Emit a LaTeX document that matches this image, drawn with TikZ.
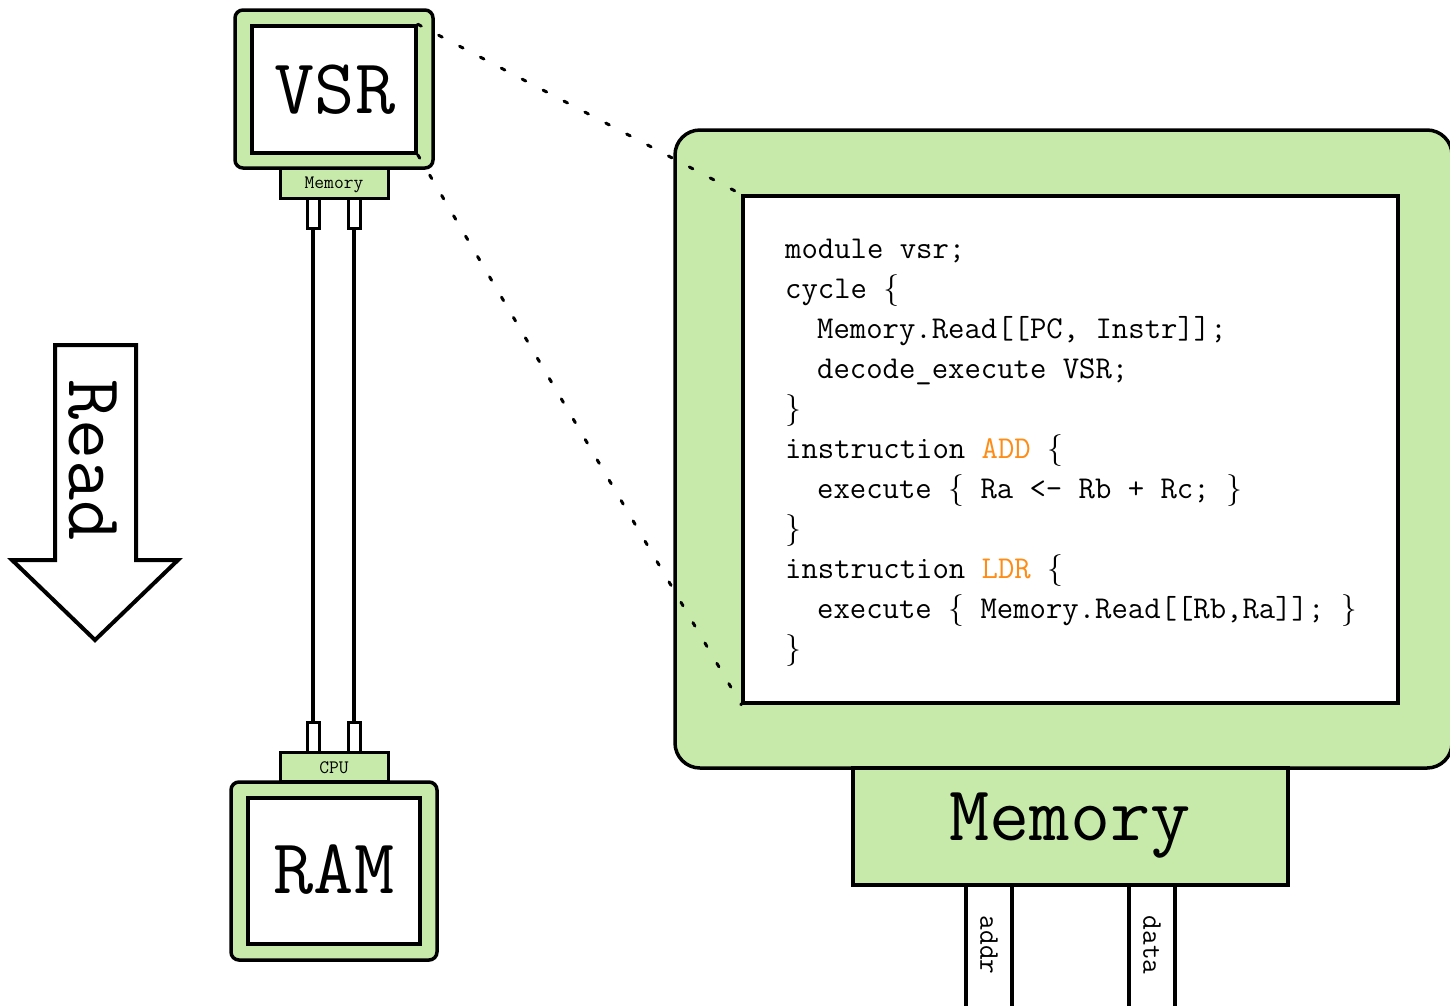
\documentclass[tikz,border=0pt]{standalone}
\usepackage{xcolor}
\definecolor{boxgreen}{RGB}{199,234,170}
\definecolor{codeorange}{RGB}{255,140,20}
\newcommand\cbopen{{\rmfamily\{}}
\newcommand\cbclose{{\rmfamily\}}}
\tikzset{
  frame/.style={draw, line width=3.5pt, fill=boxgreen, rounded corners=8pt, inner sep=0pt},
  screen/.style={draw, line width=3.5pt, fill=white, inner sep=0pt},
  port/.style={draw, line width=3pt, fill=boxgreen, inner sep=0pt},
  pin/.style={draw, line width=3pt, fill=white, inner sep=0pt, minimum width=12pt, minimum height=30pt},
  wire/.style={line width=4.5pt},
  dotline/.style={line width=3pt, line cap=round, dash pattern=on 4pt off 19.6pt},
  bigtext/.style={font=\fontsize{78}{80}\selectfont\ttfamily, inner sep=0pt},
  smalltext/.style={font=\fontsize{19}{20}\selectfont\ttfamily, inner sep=0pt},
  pintext/.style={font=\fontsize{28.5}{30}\selectfont\ttfamily, inner sep=0pt, rotate=-90},
  codeline/.style={font=\fontsize{31.8}{40}\selectfont\ttfamily, inner sep=0pt, anchor=base west},
}
\begin{document}
\begin{tikzpicture}[x=1pt,y=-1pt]
\clip (0,0) rectangle (1450,1005);
% big memory module
\node[screen, minimum width=46pt, minimum height=130pt] (addr) at (989,948) {};
\node[pintext] (addrtxt) at (989,945) {addr};
\node[screen, minimum width=46pt, minimum height=130pt] (data) at (1152,948) {};
\node[pintext] (datatxt) at (1152,945) {data};
\node[frame, rounded corners=25pt, minimum width=777pt, minimum height=638pt] (bigframe) at (1063.5,449) {};
\node[port, line width=3.5pt, minimum width=435pt, minimum height=117pt] (membox) at (1070.5,826.5) {};
\node[bigtext, anchor=base] (memtxt) at (1070,840) {Memory};
\node[screen, minimum width=655pt, minimum height=507pt] (codebox) at (1070.5,449.5) {};
% code
\node[codeline] (l1) at (785,258) {module vsr;};
\node[codeline] (l2) at (785,298) {cycle \cbopen};
\node[codeline] (l3) at (817,338) {Memory.Read[[PC, Instr]];};
\node[codeline] (l4) at (817,378) {decode\_execute VSR;};
\node[codeline] (l5) at (785,418) {\cbclose};
\node[codeline] (l6) at (785,458) {instruction \textcolor{codeorange}{ADD} \cbopen};
\node[codeline] (l7) at (817,498) {execute \cbopen{} Ra <- Rb + Rc; \cbclose};
\node[codeline] (l8) at (785,538) {\cbclose};
\node[codeline] (l9) at (785,578) {instruction \textcolor{codeorange}{LDR} \cbopen};
\node[codeline] (l10) at (817,618) {execute \cbopen{} Memory.Read[[Rb,Ra]]; \cbclose};
\node[codeline] (l11) at (785,658) {\cbclose};
% VSR
\node[frame, minimum width=198pt, minimum height=158pt] (vsr) at (334,89) {};
\node[screen, minimum width=164pt, minimum height=127pt] (vsrin) at (334,89.5) {};
\node[bigtext] (vsrtxt) at (335,90) {VSR};
\node[port, minimum width=108pt, minimum height=30pt] (memport) at (334,183) {};
\node[smalltext, anchor=base] (memporttxt) at (334,188.5) {Memory};
\node[pin] (p1) at (313,213) {};
\node[pin] (p2) at (354,213) {};
% RAM
\node[pin] (p3) at (313,737) {};
\node[pin] (p4) at (354,737) {};
\node[port, minimum width=108pt, minimum height=29pt] (cpuport) at (334,766.5) {};
\node[smalltext, anchor=base] (cputxt) at (334,773) {CPU};
\node[frame, minimum width=206pt, minimum height=178pt] (ram) at (334,871) {};
\node[screen, minimum width=172pt, minimum height=146pt] (ramin) at (334,871) {};
\node[bigtext] (ramtxt) at (334,870) {RAM};
% wires
\draw[wire] (p1.south) -- (p3.north);
\draw[wire] (p2.south) -- (p4.north);
% zoom lines
\draw[dotline] (vsrin.north east) -- (codebox.north west);
\draw[dotline] (vsrin.south east) -- (codebox.south west);
% Read arrow
\draw[line width=4pt, fill=white, line join=miter]
  (55,345) -- (136,345) -- (136,560) -- (178,560) -- (95,640) -- (12,560) -- (55,560) -- cycle;
\node[bigtext, rotate=-90] (readtxt) at (93,460) {Read};
\end{tikzpicture}
\end{document}
